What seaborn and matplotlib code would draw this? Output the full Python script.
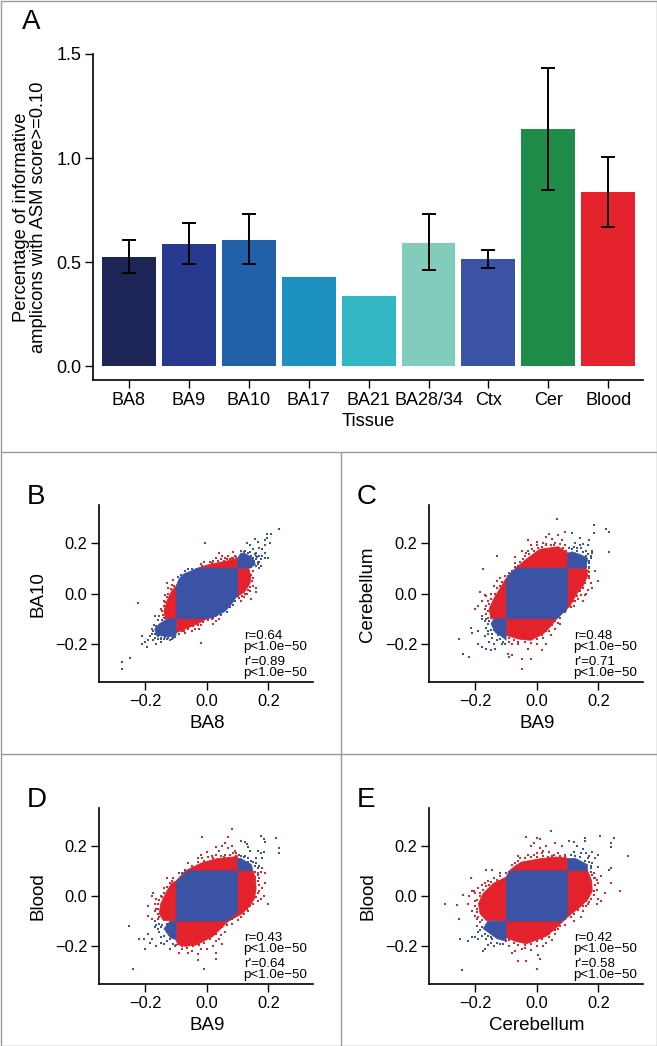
import numpy as np
import matplotlib
matplotlib.use("Agg")
import matplotlib.pyplot as plt
from matplotlib.lines import Line2D
from matplotlib.patches import Polygon
import seaborn as sns

tissues = ["BA8", "BA9", "BA10", "BA17", "BA21", "BA28/34", "Ctx", "Cer", "Blood"]
asm_pct = [0.522, 0.588, 0.607, 0.428, 0.337, 0.591, 0.513, 1.138, 0.837]
err_low = [0.445, 0.49, 0.49, np.nan, np.nan, 0.46, 0.47, 0.845, 0.67]
err_high = [0.605, 0.69, 0.73, np.nan, np.nan, 0.73, 0.56, 1.435, 1.005]
bar_colors = ["#1D2556", "#283A8F", "#2061AA", "#1C91C0", "#34B7C4",
              "#81CCBB", "#3B53A4", "#1F8C49", "#E3222B"]
RED = "#E3222B"
BLUE = "#3B53A4"

# ---------- panel B: estimated outlines of the solid regions and readable stray points
B_red_hull = [(-0.03,0.10),(0.0,0.112),(0.03,0.12),(0.07,0.13),(0.10,0.14),(0.10,0.10),(0.135,0.10),(0.143,0.07),(0.14,0.04),(0.122,0.005),(0.10,-0.01),
              (0.03,-0.09),(0.0,-0.10),(-0.03,-0.12),(-0.06,-0.135),(-0.08,-0.145),(-0.10,-0.155),(-0.10,-0.10),(-0.135,-0.10),(-0.14,-0.07),(-0.13,-0.03),(-0.115,0.01),(-0.10,0.03)]
B_blue_core = [(-0.10,-0.10),(-0.10,0.03),(-0.09,0.06),(-0.075,0.078),(-0.05,0.09),(-0.034,0.10),(0.10,0.10),(0.10,0.0),(0.085,-0.035),(0.06,-0.07),(0.03,-0.09),(0.0,-0.10)]
B_blue_hi = [(0.10,0.10),(0.14,0.10),(0.158,0.115),(0.15,0.14),(0.125,0.158),(0.11,0.16),(0.10,0.14)]
B_blue_lo = [(-0.10,-0.10),(-0.13,-0.10),(-0.155,-0.12),(-0.17,-0.14),(-0.165,-0.165),(-0.135,-0.17),(-0.11,-0.172),(-0.10,-0.165)]
B_blue_pts = [(0.235,0.255),(0.21,0.235),(0.195,0.235),(0.195,0.22),(0.19,0.21),(0.155,0.215),(0.165,0.205),(0.14,0.19),(0.13,0.2),
              (0.15,0.175),(0.17,0.18),(0.18,0.175),(0.19,0.16),(0.2,0.14),(0.19,0.14),(0.17,0.15),(0.16,0.16),(0.15,0.14),(0.165,0.125),
              (0.16,0.11),(0.17,0.1),(0.17,0.125),(0.155,0.155),(0.14,0.165),(0.145,0.15),(0.18,0.15),(0.175,0.135),(0.19,0.19),(0.205,0.2),
              (0.125,0.17),(0.11,0.17),(-0.275,-0.27),(-0.275,-0.3),(-0.25,-0.255),(-0.21,-0.2),(-0.21,-0.17),(-0.195,-0.21),(-0.19,-0.185),
              (-0.2,-0.19),(-0.185,-0.17),(-0.175,-0.185),(-0.17,-0.16),(-0.175,-0.15),(-0.18,-0.14),(-0.165,-0.2),(-0.16,-0.18),(-0.15,-0.19),
              (-0.15,-0.175),(-0.14,-0.18),(-0.13,-0.18),(-0.12,-0.185),(-0.11,-0.175),(-0.165,-0.13),(-0.155,-0.165),(-0.095,0.065),(-0.085,0.075),
              (-0.07,0.09),(-0.06,0.095),(-0.05,0.098),(0.09,-0.03),(0.075,-0.055),(0.065,-0.075),(0.045,-0.085),(0.02,-0.098),(0.1,-0.01),(0.085,-0.045),
              (0.12,0.165),(0.135,0.16),(0.152,0.13),(0.16,0.135),(0.163,0.145),(0.15,0.12),(0.165,0.115),(0.145,0.105),(0.175,0.11),(0.16,0.15),
              (-0.172,-0.125),(-0.158,-0.105),(-0.145,-0.105),(-0.18,-0.16),(-0.17,-0.175),(-0.16,-0.17),(-0.148,-0.18),(-0.135,-0.172),(-0.125,-0.175),(-0.115,-0.18),(-0.105,-0.172)]
B_red_pts = [(-0.225,-0.037),(-0.11,0.055),(-0.115,0.035),(-0.125,0.02),(-0.11,0.01),(-0.135,-0.005),(-0.14,-0.03),(-0.145,-0.07),(-0.17,-0.09),
             (-0.155,-0.09),(-0.15,-0.06),(-0.13,0.04),(-0.005,0.2),(0.04,0.16),(0.05,0.15),(0.03,0.14),(0.06,0.14),(0.07,0.15),(0.08,0.14),
             (0.09,0.15),(0.02,0.13),(0.01,0.125),(-0.01,0.125),(-0.02,0.115),(0.085,0.165),(0.15,0.09),(0.15,0.06),(0.16,0.02),(0.13,0.0),
             (0.12,-0.015),(0.11,-0.03),(0.145,-0.02),(0.16,0.005),(0.14,0.01),(0.15,0.03),(-0.02,-0.195),(-0.025,-0.14),(-0.05,-0.15),
             (-0.07,-0.155),(-0.09,-0.16),(-0.08,-0.15),(0.03,-0.11),(0.02,-0.12),(0.04,-0.1),(-0.04,-0.14),(-0.02,-0.125),
             (0.015,0.122),(0.035,0.128),(0.045,0.135),(0.055,0.13),(0.065,0.138),(0.075,0.135),(0.085,0.142),(0.095,0.145),(-0.015,0.108),
             (0.138,0.09),(0.145,0.075),(0.148,0.05),(0.14,0.025),(0.132,0.012),(0.125,0.0),(0.115,-0.008),(0.105,-0.018),
             (-0.118,0.018),(-0.125,0.0),(-0.13,-0.015),(-0.135,-0.035),(-0.138,-0.05),(-0.142,-0.085),(-0.14,-0.095),(-0.108,0.03),
             (-0.09,-0.15),(-0.075,-0.148),(-0.06,-0.14),(-0.045,-0.13),(-0.03,-0.125),(-0.012,-0.112),(0.005,-0.105),(0.015,-0.1)]

# ---------- panel C
C_red_hull = [(-0.07,0.10),(-0.05,0.12),(-0.03,0.14),(0.01,0.175),(0.04,0.18),(0.07,0.185),(0.10,0.16),(0.10,0.10),(0.16,0.10),(0.165,0.07),(0.15,0.03),(0.13,0.0),(0.107,-0.05),
              (0.064,-0.10),(0.045,-0.13),(0.02,-0.16),(-0.02,-0.185),(-0.06,-0.18),(-0.10,-0.165),(-0.10,-0.10),(-0.15,-0.10),(-0.155,-0.06),(-0.14,-0.02),(-0.125,0.01),(-0.11,0.04),(-0.10,0.06)]
C_blue_core = [(-0.10,-0.10),(-0.10,0.05),(-0.085,0.08),(-0.065,0.10),(0.10,0.10),(0.10,-0.05),(0.085,-0.075),(0.065,-0.10)]
C_blue_hi = [(0.10,0.10),(0.16,0.10),(0.165,0.14),(0.14,0.155),(0.115,0.165),(0.10,0.16)]
C_blue_lo = [(-0.10,-0.10),(-0.14,-0.10),(-0.15,-0.12),(-0.135,-0.155),(-0.115,-0.17),(-0.10,-0.185)]
C_blue_pts = [(0.235,0.245),(0.225,0.255),(0.235,0.165),(0.185,0.27),(0.185,0.24),(0.17,0.21),(0.165,0.19),(0.14,0.22),(0.115,0.24),(0.125,0.2),
              (0.15,0.195),(0.18,0.16),(0.175,0.15),(0.18,0.17),(0.17,0.13),(0.16,0.17),(0.145,0.18),(0.13,0.18),(0.155,0.115),(0.16,0.105),(0.17,0.12),
              (-0.13,0.15),(-0.07,0.105),(-0.08,0.09),(-0.09,0.08),(-0.095,0.07),(0.075,-0.095),(0.09,-0.075),(0.095,-0.065),
              (-0.255,-0.18),(-0.24,-0.24),(-0.22,-0.25),(-0.215,-0.135),(-0.21,-0.155),(-0.19,-0.15),(-0.19,-0.2),(-0.18,-0.1),(-0.17,-0.11),
              (-0.18,-0.21),(-0.165,-0.22),(-0.155,-0.19),(-0.15,-0.225),(-0.145,-0.16),(-0.14,-0.2),(-0.13,-0.185),(-0.13,-0.15),(-0.12,-0.18),
              (-0.155,-0.11),(-0.16,-0.12),(-0.15,-0.145),(-0.11,-0.19),(-0.105,-0.2),(-0.135,-0.22),(-0.17,-0.17),(-0.16,-0.16),
              (-0.165,-0.135),(-0.158,-0.15),(-0.165,-0.1),(-0.145,-0.175),(-0.125,-0.165),(-0.14,-0.145),(-0.115,-0.2),(0.16,0.15),(0.175,0.14),(0.15,0.165),
              (0.13,0.17),(0.115,0.175),(0.105,0.18),(0.17,0.105),(0.14,0.19),(0.165,0.155),(0.12,0.185)]
C_red_pts = [(0.065,0.295),(0.04,0.235),(0.03,0.225),(-0.03,0.21),(0.09,0.245),(0.07,0.23),(0.05,0.215),(0.0,0.205),(0.02,0.2),(0.08,0.21),
             (-0.05,0.17),(-0.03,0.17),(-0.02,0.19),(0.03,0.195),(0.06,0.2),(0.09,0.19),(-0.07,0.145),(-0.07,0.12),(-0.04,0.15),(-0.06,0.11),
             (-0.175,0.095),(0.2,0.05),(0.18,0.02),(0.19,0.09),(0.17,0.07),(0.175,0.04),(0.165,0.015),(0.16,0.0),(0.155,-0.005),(0.135,-0.02),
             (0.12,-0.05),(0.125,-0.03),(0.16,0.085),(0.145,-0.005),(0.17,0.1),(0.15,-0.03),
             (-0.185,0.005),(-0.17,-0.005),(-0.165,-0.01),(-0.19,-0.05),(-0.2,-0.06),(-0.18,-0.03),(-0.17,-0.06),(-0.16,-0.03),(-0.15,0.0),(-0.14,0.03),
             (-0.13,0.05),(-0.12,0.06),(-0.165,-0.08),(-0.18,-0.09),
             (-0.095,-0.24),(-0.09,-0.25),(-0.08,-0.245),(-0.05,-0.26),(-0.05,-0.3),(-0.02,-0.26),(0.015,-0.225),(-0.03,-0.22),(-0.06,-0.2),(-0.08,-0.2),
             (0.03,-0.2),(0.0,-0.2),(0.02,-0.175),(0.045,-0.165),(0.06,-0.14),(0.075,-0.12),(-0.09,-0.19),(0.04,-0.15),(0.07,-0.115),
             (-0.045,0.135),(-0.055,0.125),(-0.025,0.155),(-0.01,0.17),(0.005,0.18),(0.015,0.185),(0.03,0.19),(0.045,0.19),(0.055,0.19),(0.075,0.195),(0.085,0.18),(0.095,0.17),
             (-0.035,0.16),(0.0,0.19),(-0.015,0.175),(0.165,0.09),(0.17,0.085),(0.168,0.06),(0.158,0.04),(0.15,0.02),(0.14,0.01),(0.13,-0.01),(0.118,-0.03),(0.11,-0.055),
             (-0.16,-0.095),(-0.16,-0.07),(-0.165,-0.05),(-0.155,-0.04),(-0.15,-0.02),(-0.135,0.0),(-0.13,0.02),(-0.12,0.03),(-0.115,0.045),(-0.105,0.07),
             (-0.09,-0.175),(-0.075,-0.185),(-0.06,-0.19),(-0.04,-0.19),(-0.02,-0.195),(0.0,-0.18),(0.015,-0.165),(0.03,-0.15),(0.05,-0.125),(0.06,-0.11)]

# ---------- panel D
D_red_hull = [(-0.07,0.10),(-0.045,0.115),(-0.02,0.13),(0.03,0.148),(0.085,0.155),(0.10,0.16),(0.10,0.10),(0.15,0.10),(0.158,0.07),(0.16,0.03),(0.155,-0.01),(0.135,-0.045),(0.115,-0.07),
              (0.07,-0.10),(0.045,-0.13),(0.02,-0.16),(-0.035,-0.195),(-0.07,-0.2),(-0.09,-0.195),(-0.10,-0.18),(-0.10,-0.10),(-0.142,-0.097),(-0.155,-0.07),(-0.15,-0.03),(-0.13,0.02),(-0.115,0.05),(-0.10,0.06)]
D_blue_core = [(-0.10,-0.10),(-0.10,0.05),(-0.085,0.075),(-0.06,0.10),(0.10,0.10),(0.10,-0.06),(0.08,-0.085),(0.06,-0.10)]
D_blue_hi = [(0.10,0.10),(0.15,0.10),(0.145,0.125),(0.11,0.15),(0.10,0.15)]
D_blue_lo = [(-0.10,-0.10),(-0.12,-0.10),(-0.14,-0.13),(-0.12,-0.165),(-0.10,-0.175)]
D_blue_pts = [(0.225,0.23),(0.235,0.19),(0.235,0.17),(0.175,0.24),(0.185,0.225),(0.19,0.215),(0.11,0.22),(0.125,0.215),(0.13,0.205),(0.135,0.195),
              (0.14,0.18),(0.165,0.18),(0.175,0.17),(0.185,0.175),(0.18,0.15),(0.16,0.15),(0.16,0.13),(0.165,0.11),(0.145,0.14),(0.125,0.16),(0.18,0.11),
              (-0.09,0.09),(-0.095,0.06),(-0.08,0.09),(-0.07,0.105),(0.08,-0.09),(0.095,-0.07),(0.07,-0.095),
              (-0.255,-0.12),(-0.24,-0.29),(-0.22,-0.17),(-0.205,-0.17),(-0.2,-0.21),(-0.19,-0.15),(-0.185,-0.185),(-0.18,-0.17),(-0.17,-0.1),
              (-0.17,-0.125),(-0.165,-0.2),(-0.155,-0.11),(-0.155,-0.145),(-0.15,-0.185),(-0.14,-0.19),(-0.14,-0.16),(-0.13,-0.145),(-0.13,-0.18),
              (-0.12,-0.21),(-0.12,-0.17),(-0.11,-0.19),(-0.105,-0.2),(-0.16,-0.13),(-0.15,-0.125),(-0.145,-0.115),(-0.13,-0.11),(-0.15,-0.165),(-0.165,-0.115),
              (0.155,0.12),(0.15,0.135),(0.135,0.15),(0.12,0.155),(0.11,0.16),(0.105,0.165),(0.135,0.135),(0.17,0.12)]
D_red_pts = [(0.08,0.265),(-0.015,0.235),(0.07,0.235),(0.06,0.21),(0.05,0.2),(0.03,0.195),(0.04,0.18),(0.08,0.2),(0.07,0.19),(-0.0,0.175),
             (0.03,0.165),(0.09,0.18),(0.06,0.165),(-0.03,0.15),(-0.01,0.14),(-0.06,0.13),(-0.02,0.165),(0.095,0.17),
             (0.2,-0.03),(0.19,0.09),(0.19,0.05),(0.18,0.03),(0.185,0.0),(0.175,-0.01),(0.17,0.07),(0.165,0.09),(0.17,0.02),(0.15,-0.03),
             (0.14,-0.04),(0.135,-0.06),(0.11,-0.085),(0.165,-0.02),(0.155,0.095),(0.175,0.095),
             (-0.13,0.07),(-0.11,0.07),(-0.12,0.05),(-0.18,0.0),(-0.175,0.01),(-0.165,-0.01),(-0.19,-0.04),(-0.17,-0.03),(-0.16,-0.05),(-0.19,-0.08),
             (-0.18,-0.09),(-0.16,-0.07),(-0.15,0.0),(-0.14,0.03),(-0.17,-0.06),(-0.155,-0.085),
             (-0.01,-0.29),(0.03,-0.25),(0.03,-0.225),(-0.03,-0.255),(-0.03,-0.23),(-0.05,-0.22),(-0.09,-0.225),(-0.08,-0.21),(-0.06,-0.225),(0.0,-0.21),
             (0.02,-0.2),(0.05,-0.19),(0.06,-0.145),(0.04,-0.17),(0.08,-0.11),(0.1,-0.095),(-0.1,-0.195),(0.03,-0.18),(-0.02,-0.21),(0.045,-0.155),
             (-0.05,0.12),(-0.03,0.135),(-0.015,0.15),(0.005,0.155),(0.015,0.16),(0.045,0.16),(0.075,0.165),(0.085,0.17),(0.095,0.16),(0.055,0.155),(0.02,0.15),
             (0.165,0.085),(0.165,0.06),(0.17,0.045),(0.165,0.01),(0.16,-0.005),(0.145,-0.025),(0.13,-0.05),(0.12,-0.07),(0.155,0.075),
             (-0.16,-0.03),(-0.165,-0.05),(-0.16,-0.09),(-0.155,-0.015),(-0.14,0.01),(-0.13,0.035),(-0.115,0.06),(-0.145,-0.005),
             (-0.095,-0.19),(-0.08,-0.2),(-0.065,-0.205),(-0.045,-0.2),(-0.025,-0.195),(-0.01,-0.185),(0.01,-0.17),(0.03,-0.15),(0.05,-0.125),(0.065,-0.115)]

# ---------- panel E
E_red_hull = [(-0.09,0.10),(-0.07,0.12),(-0.05,0.135),(0.01,0.148),(0.064,0.155),(0.10,0.15),(0.10,0.10),(0.165,0.10),(0.178,0.06),(0.18,0.02),(0.165,-0.015),(0.14,-0.044),(0.10,-0.083),
              (0.086,-0.10),(0.06,-0.13),(0.03,-0.16),(-0.034,-0.19),(-0.07,-0.18),(-0.10,-0.165),(-0.10,-0.10),(-0.165,-0.097),(-0.185,-0.07),(-0.19,-0.03),(-0.175,0.01),(-0.142,0.05),(-0.10,0.075)]
E_blue_core = [(-0.10,-0.10),(-0.10,0.075),(-0.08,0.10),(0.10,0.10),(0.10,-0.075),(0.08,-0.10)]
E_blue_hi = [(0.10,0.10),(0.165,0.10),(0.165,0.125),(0.125,0.15),(0.10,0.15)]
E_blue_lo = [(-0.10,-0.10),(-0.16,-0.10),(-0.175,-0.13),(-0.13,-0.17),(-0.10,-0.18)]
E_blue_pts = [(0.295,0.16),(0.25,0.23),(0.205,0.24),(0.24,0.21),(0.24,0.195),(0.155,0.23),(0.155,0.22),(0.105,0.22),(0.12,0.215),(0.13,0.2),(0.18,0.175),
              (0.2,0.165),(0.19,0.15),(0.24,0.11),(0.235,0.105),(0.17,0.16),(0.16,0.17),(0.18,0.13),(0.2,0.115),(0.145,0.17),(0.12,0.175),(0.15,0.185),(0.175,0.11),
              (-0.165,0.105),(-0.145,0.105),(-0.1,0.09),(-0.09,0.095),(0.09,-0.09),(0.095,-0.08),(0.075,-0.1),
              (-0.245,-0.295),(-0.25,-0.17),(-0.225,-0.18),(-0.21,-0.165),(-0.2,-0.165),(-0.195,-0.12),(-0.19,-0.145),(-0.18,-0.16),(-0.175,-0.22),(-0.17,-0.21),
              (-0.185,-0.105),(-0.16,-0.195),(-0.15,-0.185),(-0.14,-0.2),(-0.145,-0.17),(-0.13,-0.185),(-0.12,-0.19),(-0.11,-0.19),(-0.165,-0.17),(-0.19,-0.17),
              (-0.18,-0.125),(-0.17,-0.15),(-0.16,-0.16),(-0.15,-0.165),(-0.185,-0.135),(0.175,0.12),(0.17,0.135),(0.155,0.14),(0.14,0.155),(0.125,0.16),(0.11,0.165),(0.165,0.15)]
E_red_pts = [(-0.3,-0.03),(-0.26,-0.035),(-0.255,-0.09),(-0.24,0.005),(-0.22,0.0),(-0.215,0.07),(-0.21,0.02),(-0.225,-0.03),(-0.2,-0.02),(-0.21,-0.06),(-0.205,0.02),
             (-0.19,0.03),(-0.18,0.045),(-0.17,0.05),(-0.16,0.06),(-0.2,-0.08),(-0.195,-0.09),(-0.185,0.01),(-0.14,0.07),(-0.12,0.09),(-0.195,-0.05),(-0.2,0.01),
             (-0.035,0.235),(-0.0,0.23),(0.01,0.225),(0.045,0.26),(0.08,0.2),(0.06,0.21),(-0.02,0.2),(0.01,0.19),(0.02,0.18),(0.03,0.2),(0.04,0.175),(-0.03,0.165),
             (-0.06,0.16),(0.0,0.17),(0.07,0.17),(0.09,0.165),(0.05,0.16),(-0.055,0.15),(-0.07,0.13),(-0.01,0.21),
             (0.27,0.02),(0.24,0.05),(0.21,0.08),(0.21,-0.02),(0.22,0.01),(0.2,0.05),(0.19,0.07),(0.195,0.025),(0.2,-0.01),(0.185,0.09),(0.17,0.06),(0.18,0.085),
             (0.16,-0.04),(0.15,-0.06),(0.17,-0.025),(0.145,-0.085),(0.12,-0.1),(0.195,-0.03),(0.16,-0.02),
             (0.0,-0.29),(0.01,-0.25),(0.005,-0.235),(-0.06,-0.26),(-0.035,-0.26),(-0.08,-0.225),(-0.07,-0.22),(-0.05,-0.21),(-0.02,-0.215),(0.02,-0.2),(0.03,-0.185),
             (0.05,-0.175),(0.06,-0.15),(0.09,-0.115),(0.07,-0.13),(-0.09,-0.2),(-0.1,-0.18),(-0.04,-0.205),(0.0,-0.2),(0.04,-0.165),
             (-0.08,0.125),(-0.06,0.14),(-0.04,0.15),(-0.02,0.155),(0.0,0.155),(0.02,0.16),(0.035,0.155),(0.055,0.165),(0.075,0.16),(0.09,0.155),(-0.01,0.165),(0.015,0.17),
             (0.175,0.095),(0.185,0.07),(0.19,0.045),(0.185,0.02),(0.185,0.005),(0.175,-0.01),(0.165,-0.03),(0.15,-0.04),(0.135,-0.055),(0.12,-0.07),(0.11,-0.085),(0.195,0.065),
             (-0.15,0.055),(-0.165,0.04),(-0.175,0.025),(-0.185,0.0),(-0.195,-0.015),(-0.2,-0.04),(-0.195,-0.065),(-0.19,-0.085),(-0.18,-0.095),(-0.12,0.08),(-0.13,0.065),(-0.155,0.045),
             (-0.09,-0.175),(-0.075,-0.185),(-0.06,-0.195),(-0.04,-0.195),(-0.02,-0.19),(0.0,-0.18),(0.015,-0.17),(0.04,-0.15),(0.06,-0.135),(0.075,-0.12)]

W, H = 657, 1046
sns.set_style("white")
plt.rcParams["font.family"] = ["Liberation Sans", "DejaVu Sans"]
plt.rcParams["axes.unicode_minus"] = True
plt.rcParams["text.color"] = "black"
plt.rcParams["xtick.color"] = "black"
plt.rcParams["ytick.color"] = "black"
plt.rcParams["axes.labelcolor"] = "black"
fig = plt.figure(figsize=(W / 100, H / 100), dpi=100, facecolor="white")


def px_axes(x0, x1, ytop, ybot):
    return fig.add_axes([x0 / W, 1 - ybot / H, (x1 - x0) / W, (ybot - ytop) / H])


def ftext(x, y, s, **kw):
    fig.text(x / W, 1 - y / H, s, **kw)


# frame lines
for (x0, y0, x1, y1) in [(0.5, 452, 656.5, 452), (0.5, 754, 656.5, 754), (341, 452, 341, 1046),
                         (0.5, 0.5, 656.5, 0.5), (0.5, 0.5, 0.5, 1045.5), (656.5, 0.5, 656.5, 1045.5),
                         (0.5, 1045.5, 656.5, 1045.5)]:
    fig.add_artist(Line2D([x0 / W, x1 / W], [1 - y0 / H, 1 - y1 / H], color="#9a9a9a", lw=1.0))

# panel A
axA = px_axes(93, 643, 54, 380)
sns.barplot(x=tissues, y=asm_pct, hue=tissues, palette=bar_colors, legend=False, width=0.9,
            saturation=1, ax=axA, order=tissues, hue_order=tissues, linewidth=0)
axA.errorbar(range(len(tissues)), asm_pct,
             yerr=[np.array(asm_pct) - np.array(err_low), np.array(err_high) - np.array(asm_pct)],
             fmt="none", ecolor="black", elinewidth=1.4, capsize=5, capthick=1.4)
axA.set_xlim(-0.6, 8.58)
axA.set_ylim(-0.067, 1.5)
axA.set_yticks([0, 0.5, 1.0, 1.5], ["0.0", "0.5", "1.0", "1.5"])
axA.tick_params(axis="both", left=True, bottom=True, length=5.5, width=1, labelsize=13, color="black", pad=3)
axA.set_xlabel("")
sns.despine(ax=axA)
for s in ("left", "bottom"):
    axA.spines[s].set_linewidth(1.2)
    axA.spines[s].set_color("black")
ftext(368.7, 421, "Tissue", fontsize=13.2, ha="center", va="center")
ftext(30, 217, "Percentage of informative\namplicons with ASM score>=0.10", fontsize=13.2,
      rotation=90, ha="center", va="center", multialignment="center", linespacing=1.05)
ftext(31, 22, "A", fontsize=20, ha="center", va="center")

panels = [
    ("B", B_red_hull, B_blue_core, B_blue_hi, B_blue_lo, B_red_pts, B_blue_pts, "BA8", "BA10", 99.3, 505, 682,
     ["r=0.64", "r'=0.89"]),
    ("C", C_red_hull, C_blue_core, C_blue_hi, C_blue_lo, C_red_pts, C_blue_pts, "BA9", "Cerebellum", 429.3, 505, 682,
     ["r=0.48", "r'=0.71"]),
    ("D", D_red_hull, D_blue_core, D_blue_hi, D_blue_lo, D_red_pts, D_blue_pts, "BA9", "Blood", 99.3, 808, 984,
     ["r=0.43", "r'=0.64"]),
    ("E", E_red_hull, E_blue_core, E_blue_hi, E_blue_lo, E_red_pts, E_blue_pts, "Cerebellum", "Blood", 429.3, 808, 984,
     ["r=0.42", "r'=0.58"]),
]

for name, hull, core, hi, lo, rpts, bpts, xl, yl, x0, ytop, ybot, rs in panels:
    ax = px_axes(x0, x0 + 214, ytop, ybot)
    ax.set_xlim(-0.35, 0.346)
    ax.set_ylim(-0.35, 0.35)
    ax.add_patch(Polygon(hull, closed=True, facecolor=RED, edgecolor=RED, lw=0.6, zorder=1))
    sns.scatterplot(x=[p[0] for p in rpts], y=[p[1] for p in rpts], color=RED, s=3.6, linewidth=0, marker="s", ax=ax, zorder=2)
    sns.scatterplot(x=[p[0] for p in bpts], y=[p[1] for p in bpts], color=BLUE, s=3.6, linewidth=0, marker="s", ax=ax, zorder=3)
    for poly in (core, hi, lo):
        ax.add_patch(Polygon(poly, closed=True, facecolor=BLUE, edgecolor=BLUE, lw=0.4, zorder=4))
    ax.set_xticks([-0.2, 0, 0.2], ["\u22120.2", "0.0", "0.2"])
    ax.set_yticks([-0.2, 0, 0.2], ["\u22120.2", "0.0", "0.2"])
    ax.tick_params(axis="both", left=True, bottom=True, length=5.5, width=1, labelsize=11.8, color="black", pad=3)
    sns.despine(ax=ax)
    for s in ("left", "bottom"):
        ax.spines[s].set_linewidth(1.2)
        ax.spines[s].set_color("black")
    ftext(x0 + 107.7, ybot + 41, xl, fontsize=13.5, ha="center", va="center")
    ftext(x0 - 61.5, (ytop + ybot) / 2 + 0.5, yl, fontsize=13.5, ha="center", va="center", rotation=90)
    ftext(x0 - 73, ytop - 8, name, fontsize=20, ha="left", va="center")
    tx = x0 + 143.5
    for dy, s, off in [(-46, rs[0], 1.5), (-35.3, "p<1.0e\u221250", 0), (-20, rs[1], 1), (-9, "p<1.0e\u221250", 0)]:
        ftext(tx + off, ybot + dy, s, fontsize=9.6, ha="left", va="center")

fig.savefig("out.png", dpi=100, facecolor="white")
